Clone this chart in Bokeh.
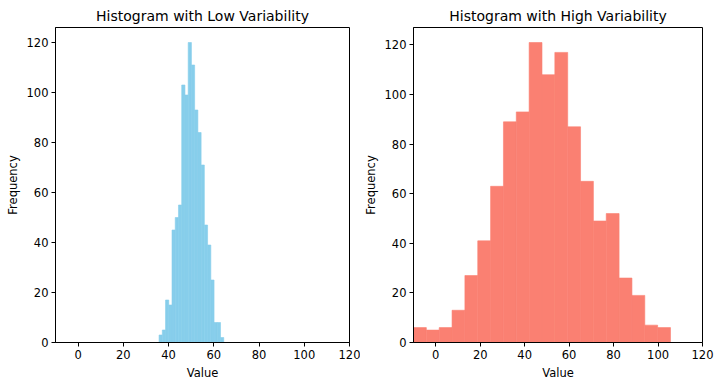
import numpy as np
from bokeh.plotting import figure
from bokeh.layouts import row
from bokeh.models import Range1d, FixedTicker
from bokeh.embed import file_html
from bokeh.resources import INLINE

# Data
low_counts = [3, 5, 17, 15, 45, 50, 55, 103, 99, 120, 111, 93, 84, 71, 47, 39, 25, 8, 8, 2]
low_bin_range = [35.8, 64.4]
high_counts = [6, 5, 6, 13, 27, 41, 63, 89, 93, 121, 108, 117, 87, 65, 49, 52, 26, 19, 7, 6]
high_bin_range = [-10.0, 105.6]
x_ticks = [0, 20, 40, 60, 80, 100, 120]
y_ticks = [0, 20, 40, 60, 80, 100, 120]
titles = ["Histogram with Low Variability", "Histogram with High Variability"]
colors = ["#87CEEB", "#FA8072"]

FONT = "DejaVu Sans"


def make(counts, brange, title, color, bl, br):
    edges = np.linspace(brange[0], brange[1], len(counts) + 1)
    p = figure(width=360, height=386, output_backend="svg", toolbar_location=None,
               x_range=Range1d(-10, 120), y_range=Range1d(0, max(counts) * 1.05),
               min_border_left=bl, min_border_right=br, min_border_top=27, min_border_bottom=44)
    p.quad(left=edges[:-1], right=edges[1:], bottom=0, top=counts,
           fill_color=color, line_color=color, line_width=0.6)
    p.title.text = title
    p.title.align = "center"
    p.title.text_font = FONT
    p.title.text_font_size = "14px"
    p.title.text_font_style = "normal"
    p.title.text_color = "#000000"
    p.title.standoff = 7
    p.title.offset = 0
    p.xgrid.visible = False
    p.ygrid.visible = False
    p.outline_line_color = "#000000"
    p.outline_line_alpha = 1
    p.outline_line_width = 1
    p.xaxis.axis_label = "Value"
    p.yaxis.axis_label = "Frequency"
    p.xaxis.ticker = FixedTicker(ticks=x_ticks)
    p.yaxis.ticker = FixedTicker(ticks=y_ticks)
    for ax in (p.xaxis, p.yaxis):
        ax.minor_tick_line_color = None
        ax.major_tick_in = 0
        ax.major_tick_out = 4
        ax.major_tick_line_color = "#000000"
        ax.axis_line_color = "#000000"
        ax.major_label_text_font = FONT
        ax.major_label_text_font_size = "11.5px"
        ax.major_label_text_color = "#000000"
        ax.axis_label_text_font = FONT
        ax.axis_label_text_font_size = "11.5px"
        ax.axis_label_text_font_style = "normal"
        ax.axis_label_text_color = "#000000"
        ax.major_label_standoff = 3
    p.xaxis.axis_label_standoff = 4
    p.yaxis.axis_label_standoff = 4
    p.background_fill_color = "white"
    p.border_fill_color = "white"
    return p


p1 = make(low_counts, low_bin_range, titles[0], colors[0], 55, 11)
p2 = make(high_counts, high_bin_range, titles[1], colors[1], 49, 18)
layout = row(p1, p2)

open("out.html", "w").write(file_html(layout, INLINE))
